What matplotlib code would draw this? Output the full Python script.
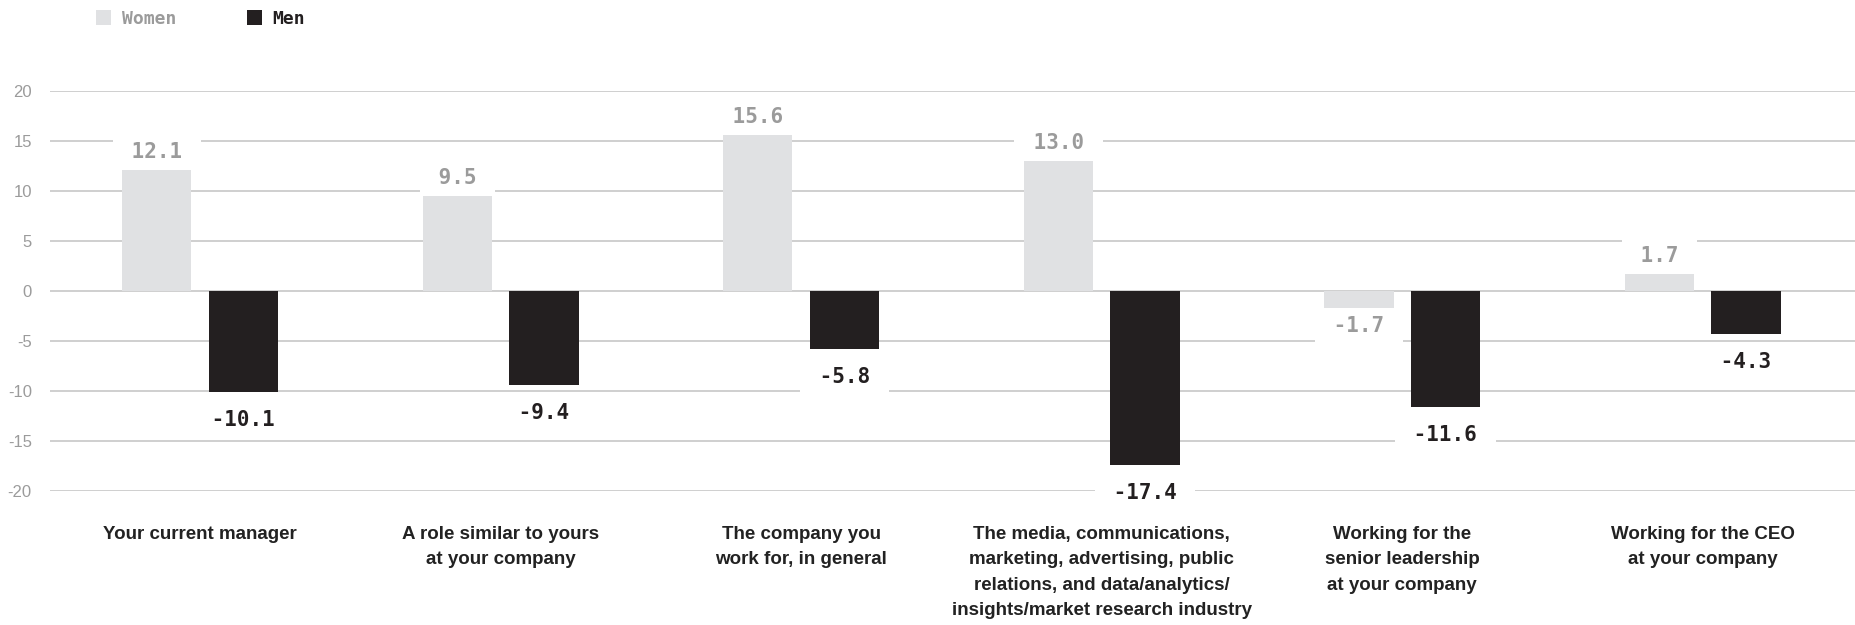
import matplotlib.pyplot as plt
import numpy as np

# survey categories and net scores by gender
categories = [
    "Your current manager",
    "A role similar to yours\nat your company",
    "The company you\nwork for, in general",
    "The media, communications,\nmarketing, advertising, public\nrelations, and data/analytics/\ninsights/market research industry",
    "Working for the\nsenior leadership\nat your company",
    "Working for the CEO\nat your company",
]
women = [12.1, 9.5, 15.6, 13.0, -1.7, 1.7]
men = [-10.1, -9.4, -5.8, -17.4, -11.6, -4.3]
yticks = [20, 15, 10, 5, 0, -5, -10, -15, -20]

WOMEN_COL = "#e0e1e3"
WOMEN_TXT = "#9b9b9b"
MEN_COL = "#231f20"
GRID_COL = "#cccccc"

fig = plt.figure(figsize=(18.56, 6.25), dpi=100)
ax = fig.add_axes([0.0269, 0.2144, 0.9731, 0.64])

x = np.arange(len(categories))
w = 0.23
off = 0.144

bw = ax.bar(x - off, women, w, color=WOMEN_COL, zorder=2, label="Women")
bm = ax.bar(x + off, men, w, color=MEN_COL, zorder=2, label="Men")

# value labels sit on a white box so they break the grid lines
def label_bars(bars, vals, color, up, down):
    for b, v in zip(bars, vals):
        cx = b.get_x() + b.get_width() / 2
        dy = up if v >= 0 else -down
        ax.annotate(" {:.1f} ".format(v), (cx, v), xytext=(0, dy),
                    textcoords="offset points", ha="center", va="center",
                    fontsize=15, fontweight="bold", family="DejaVu Sans Mono",
                    color=color, zorder=4,
                    bbox=dict(boxstyle="square,pad=0.3", fc="white", ec="none"))

label_bars(bw, women, WOMEN_TXT, 13, 13)
label_bars(bm, men, MEN_COL, 19, 20)

ax.set_ylim(-20, 20)
ax.set_xlim(-0.5, 5.51)
ax.set_yticks(yticks)
ax.set_yticklabels([str(t) for t in yticks], family="Liberation Sans",
                   fontsize=12, color=WOMEN_TXT)
for t in yticks:
    ax.axhline(t, color=GRID_COL, lw=1.3, zorder=1)

ax.set_xticks(x)
ax.set_xticklabels(categories, family="Liberation Sans", fontweight="bold",
                   fontsize=13.5, color="#222222", linespacing=1.65)
ax.tick_params(axis="x", length=0, pad=25)
ax.tick_params(axis="y", length=0, pad=13)
for s in ax.spines.values():
    s.set_visible(False)

leg = fig.legend(handles=[bw, bm], loc="center left",
                 bbox_to_anchor=(0.0515, 0.97), ncol=2, frameon=False,
                 prop={"family": "DejaVu Sans Mono", "weight": "bold", "size": 13},
                 handlelength=0.85, handleheight=0.85, handletextpad=0.6,
                 columnspacing=3.9, borderpad=0, borderaxespad=0)
leg.get_texts()[0].set_color(WOMEN_TXT)
leg.get_texts()[1].set_color(MEN_COL)

fig.savefig("out.png", dpi=100)
